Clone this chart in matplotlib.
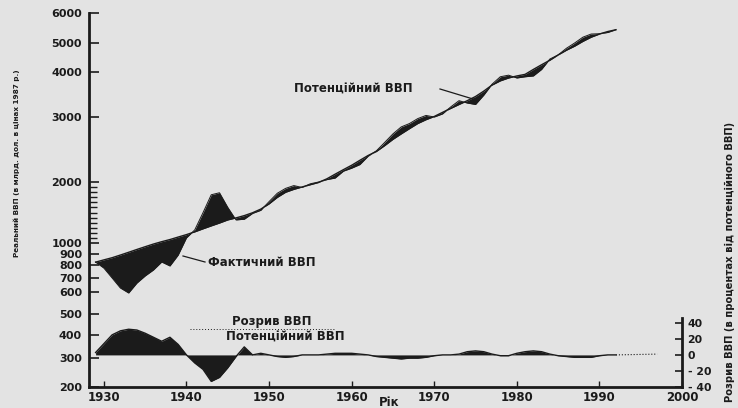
import numpy as np
import matplotlib
matplotlib.use("Agg")
import matplotlib.pyplot as plt
from matplotlib.lines import Line2D

# values (billions of 1987 dollars, gap in %)
years = list(range(1929, 1993))
potential_gdp = [825, 845, 865, 890, 915, 940, 965, 990, 1015, 1040,
                 1070, 1100, 1135, 1175, 1215, 1255, 1300, 1330, 1365, 1410,
                 1470, 1560, 1680, 1780, 1840, 1890, 1940, 1990, 2040, 2100,
                 2160, 2220, 2290, 2360, 2420, 2510, 2610, 2700, 2790, 2880,
                 2950, 3010, 3090, 3170, 3250, 3330, 3420, 3540, 3680, 3780,
                 3850, 3900, 3940, 4080, 4230, 4380, 4560, 4730, 4880, 5050,
                 5180, 5280, 5360, 5420]
actual_gdp = [825, 775, 700, 627, 595, 662, 715, 760, 826, 792,
              890, 1060, 1160, 1410, 1730, 1770, 1500, 1300, 1310, 1400,
              1450, 1600, 1760, 1860, 1920, 1880, 1960, 2000, 2030, 2050,
              2140, 2180, 2230, 2350, 2430, 2560, 2700, 2820, 2880, 2970,
              3030, 3000, 3060, 3200, 3330, 3280, 3250, 3450, 3700, 3880,
              3920, 3850, 3880, 3900, 4080, 4420, 4560, 4800, 5000, 5180,
              5280, 5290, 5330, 5420]
gap_pct = [3, 14, 25, 30, 32, 31, 27, 22, 17, 22,
           13, 0, -10, -18, -33, -28, -16, -2, 10, 0,
           2, 0, -2, -3, -2, 0, 0, 0, 1, 2,
           2, 2, 1, 0, -2, -3, -4, -5, -4, -4,
           -3, -1, 0, 0, 1, 4, 5, 4, 1, -1,
           -1, 2, 4, 5, 4, 1, -1, -2, -3, -3,
           -3, -1, 0, 0]
proj_years = [1992, 1997]
proj_gap = [0, 1]

gdp_ticks = [200, 300, 400, 500, 600, 700, 800, 900, 1000, 2000, 3000, 4000, 5000, 6000]
gap_ticks = [-40, -20, 0, 20, 40]
gap_labels = ['- 40', '- 20', '0', '20', '40']
year_ticks = [1930, 1940, 1950, 1960, 1970, 1980, 1990, 2000]

# the printed GDP axis is not a clean log scale: row of each tick label in the scan
W, H = 738, 408
tick_rows = np.array([387, 358, 335, 314, 292, 278, 265, 254, 243, 182, 117, 72, 43, 13])
knot_pos = (387 - tick_rows) / 374.0
knot_log = np.log10(gdp_ticks)


def fwd(v):
    v = np.clip(np.asarray(v, dtype=float), 1e-6, None)
    return np.interp(np.log10(v), knot_log, knot_pos)


def inv(p):
    return 10 ** np.interp(np.asarray(p, dtype=float), knot_pos, knot_log)


def fx(px):
    return px / W


def fy(py):
    return 1 - py / H


ink = '#1b1b1b'
paper = '#e3e3e3'

fig = plt.figure(figsize=(W / 100, H / 100), dpi=100, facecolor=paper)
ax = fig.add_axes([fx(89), fy(387), fx(682) - fx(89), fy(13) - fy(387)])
ax.set_facecolor('none')
ax.set_yscale('function', functions=(fwd, inv))
ax.set_ylim(200, 6000)
ax.set_xlim(1928.2, 2000)

ax.fill_between(years, potential_gdp, actual_gdp, color=ink, lw=0)
ax.plot(years, potential_gdp, color=ink, lw=1.0)
ax.plot(years, actual_gdp, color=ink, lw=0.7)

for s in ['top', 'right']:
    ax.spines[s].set_visible(False)
for s in ['left', 'bottom']:
    ax.spines[s].set_linewidth(2.0)
    ax.spines[s].set_color(ink)

ax.set_yticks(gdp_ticks)
ax.set_yticklabels([str(t) for t in gdp_ticks])
ax.set_yticks(np.logspace(3, np.log10(2000), 13)[1:-1], minor=True)
ax.yaxis.set_minor_formatter(plt.NullFormatter())
ax.tick_params(axis='y', which='major', direction='in', length=7, width=1.2,
               pad=5, colors=ink, labelsize=8)
ax.tick_params(axis='y', which='minor', direction='in', length=6, width=1.0, colors=ink)
ax.set_xticks(year_ticks)
ax.tick_params(axis='x', direction='in', length=4, width=1.0, pad=3,
               colors=ink, labelsize=8.5)
for lab in ax.get_xticklabels() + ax.get_yticklabels():
    lab.set_fontweight('bold')

# gap panel overlaid on the bottom strip, with its own right-hand axis
ax2 = fig.add_axes([fx(89), fy(387), fx(682) - fx(89), fy(318) - fy(387)])
ax2.set_facecolor('none')
ax2.set_xlim(1928.2, 2000)
ax2.set_ylim(-40, 46)
ax2.fill_between(years, gap_pct, 0, color=ink, lw=0)
ax2.plot(years, gap_pct, color=ink, lw=1.0)
ax2.plot(proj_years, proj_gap, color=ink, lw=0.8, ls=':')
for s in ['top', 'left', 'bottom']:
    ax2.spines[s].set_visible(False)
ax2.spines['right'].set_linewidth(2.0)
ax2.spines['right'].set_color(ink)
ax2.set_xticks([])
ax2.yaxis.tick_right()
ax2.set_yticks(gap_ticks)
ax2.set_yticklabels(gap_labels, fontweight='bold')
ax2.tick_params(axis='y', direction='in', length=5, width=1.2, pad=4,
                colors=ink, labelsize=7.8)

# labels and annotations
fig.text(fx(17), fy(163), 'Реальний ВВП (в млрд. дол. в цінах 1987 р.)',
         rotation=90, ha='center', va='center', fontsize=5.2, color=ink,
         fontweight='bold')
fig.text(fx(730), fy(262), 'Розрив ВВП (в процентах від потенційного ВВП)',
         rotation=90, ha='center', va='center', fontsize=7.2, color=ink,
         fontweight='bold')
fig.text(fx(389), fy(402), 'Рік', ha='center', va='center', fontsize=8.5,
         fontweight='bold', color=ink)

fig.text(fx(353), fy(89), 'Потенційний ВВП', ha='center', va='center',
         fontsize=8.5, fontweight='bold', color=ink)
fig.add_artist(Line2D([fx(440), fx(473)], [fy(89), fy(99)], color=ink, lw=0.9))

fig.text(fx(208), fy(262), 'Фактичний ВВП', ha='left', va='center',
         fontsize=8.5, fontweight='bold', color=ink)
fig.add_artist(Line2D([fx(183), fx(205)], [fy(256), fy(262)], color=ink, lw=0.9))

fig.text(fx(272), fy(321), 'Розрив ВВП', ha='center', va='center',
         fontsize=8.5, fontweight='bold', color=ink)
fig.add_artist(Line2D([fx(190), fx(335)], [fy(329), fy(329)], color=ink,
                      lw=0.7, ls=(0, (1, 2))))
fig.text(fx(285), fy(337), 'Потенційний ВВП', ha='center', va='center',
         fontsize=8.5, fontweight='bold', color=ink)

fig.savefig('out.png', dpi=100, facecolor=paper)
